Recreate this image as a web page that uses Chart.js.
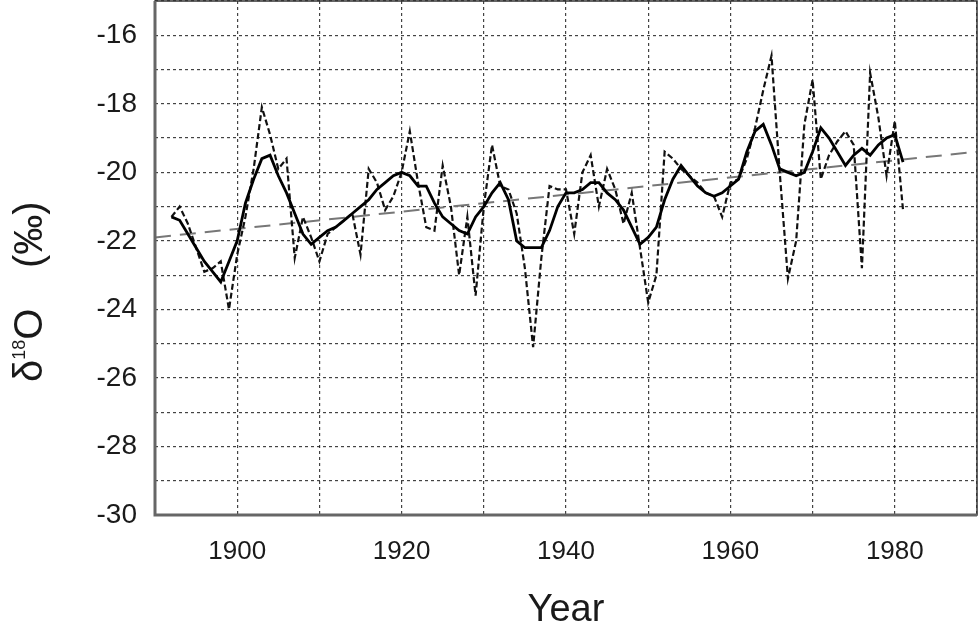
<!DOCTYPE html>
<html>
<head>
<meta charset="utf-8">
<script src="https://cdn.jsdelivr.net/npm/chart.js@4.4.1/dist/chart.umd.min.js"></script>
<style>
  html, body { margin: 0; padding: 0; background: #fff; }
  #wrap { width: 980px; height: 633px; }
</style>
</head>
<body>
<div id="wrap"><canvas id="chart" width="980" height="633"></canvas></div>
<script>
// yearly values 1892-1981
const startYear = 1892;
const annual = [
  -21.3, -21.0, -21.5, -22.2, -22.9, -22.8, -22.6, -24.0, -22.4, -21.3,
  -19.9, -18.1, -18.9, -19.9, -19.6, -22.5, -21.3, -21.9, -22.6, -21.8,
  -21.6, -21.4, -21.2, -22.4, -19.9, -20.3, -21.1, -20.7, -20.0, -18.8,
  -20.3, -21.6, -21.7, -19.8, -21.0, -23.0, -21.3, -23.6, -21.0, -19.2,
  -20.4, -20.5, -21.2, -22.8, -25.1, -22.5, -20.4, -20.5, -20.5, -21.8,
  -20.0, -19.5, -21.0, -19.9, -20.5, -21.5, -20.6, -22.2, -23.8, -23.0,
  -19.4, -19.6, -19.9, -20.1, -20.3, -20.6, -20.7, -21.3, -20.3, -20.2,
  -19.6, -18.7, -17.6, -16.6, -20.0, -23.1, -22.0, -18.6, -17.3, -20.2,
  -19.5, -19.1, -18.8, -19.2, -22.8, -17.1, -18.4, -20.1, -18.5, -21.1
];
// running mean (solid line)
const smoothed = [
  -21.3, -21.4, -21.8, -22.2, -22.6, -22.9, -23.2, -22.6, -22.0, -20.9,
  -20.2, -19.6, -19.5, -20.1, -20.6, -21.2, -21.8, -22.1, -21.9, -21.7,
  -21.6, -21.4, -21.2, -21.0, -20.8, -20.5, -20.3, -20.1, -20.0, -20.1,
  -20.4, -20.4, -20.9, -21.3, -21.5, -21.7, -21.8, -21.3, -21.0, -20.6,
  -20.3, -20.8, -22.0, -22.2, -22.2, -22.2, -21.7, -21.0, -20.6, -20.6,
  -20.5, -20.3, -20.3, -20.6, -20.8, -21.1, -21.6, -22.1, -21.9, -21.6,
  -20.8, -20.2, -19.8, -20.1, -20.4, -20.6, -20.7, -20.6, -20.4, -20.2,
  -19.4, -18.8, -18.6, -19.2, -19.9, -20.0, -20.1, -20.0, -19.4, -18.7,
  -19.0, -19.4, -19.8, -19.5, -19.3, -19.5, -19.2, -19.0, -18.9, -19.7
];
// linear trend
const trendYears = [1890, 1990];
const trendValues = [-21.9, -19.4];

const years = annual.map((v, i) => startYear + i);
const xTickLabels = [1900, 1920, 1940, 1960, 1980];
const yTickLabels = [-30, -28, -26, -24, -22, -20, -18, -16];

const toPoints = (xs, ys) => xs.map((x, i) => ({ x: x, y: ys[i] }));

const fontFamily = '"Liberation Sans", Arial, sans-serif';

// frame round the plot and the rotated y title with its superscript
const framePlugin = {
  id: 'frame',
  afterDraw(chart) {
    const ctx = chart.ctx;
    const a = chart.chartArea;
    ctx.save();
    ctx.setLineDash([]);
    ctx.strokeStyle = '#333';
    ctx.lineWidth = 1.5;
    ctx.strokeRect(a.left, a.top, a.right - a.left, a.bottom - a.top);
    ctx.strokeStyle = '#666';
    ctx.lineWidth = 3;
    ctx.beginPath();
    ctx.moveTo(a.left, a.top);
    ctx.lineTo(a.left, a.bottom);
    ctx.lineTo(a.right, a.bottom);
    ctx.stroke();

    ctx.fillStyle = '#1a1a1a';
    ctx.translate(42, 382);
    ctx.rotate(-Math.PI / 2);
    ctx.textBaseline = 'alphabetic';
    ctx.textAlign = 'left';
    let px = 0;
    ctx.font = '40px ' + fontFamily;
    ctx.fillText('δ', px, 0);
    px += ctx.measureText('δ').width;
    ctx.font = '18px ' + fontFamily;
    ctx.fillText('18', px, -17);
    px += ctx.measureText('18').width;
    ctx.font = '40px ' + fontFamily;
    ctx.fillText('O', px, 0);
    ctx.fillText('(‰)', 114, 0);
    ctx.restore();
  }
};

new Chart(document.getElementById('chart'), {
  type: 'line',
  data: {
    datasets: [
      {
        label: 'annual',
        data: toPoints(years, annual),
        borderColor: '#111',
        borderWidth: 2.2,
        borderDash: [6, 3],
        pointRadius: 0,
        order: 2
      },
      {
        label: 'running mean',
        data: toPoints(years, smoothed),
        borderColor: '#000',
        borderWidth: 2.8,
        pointRadius: 0,
        order: 1
      },
      {
        label: 'trend',
        data: toPoints(trendYears, trendValues),
        borderColor: '#777',
        borderWidth: 2,
        borderDash: [16, 9],
        pointRadius: 0,
        order: 3
      }
    ]
  },
  options: {
    responsive: false,
    animation: false,
    devicePixelRatio: 1,
    layout: { padding: { left: 0, right: 3, top: 1, bottom: 0 } },
    plugins: { legend: { display: false }, tooltip: { enabled: false } },
    scales: {
      x: {
        type: 'linear',
        min: 1890,
        max: 1990,
        afterFit: s => { s.height = 118; s.paddingLeft = 0; s.paddingRight = 0; },
        grid: { color: 'rgba(20,20,20,0.8)', lineWidth: 1.2, drawTicks: false },
        border: { display: false, dash: [3, 3] },
        ticks: {
          stepSize: 10,
          autoSkip: false,
          maxRotation: 0,
          padding: 21,
          color: '#1a1a1a',
          font: { family: fontFamily, size: 26 },
          callback: v => xTickLabels.includes(v) ? String(v) : ''
        },
        title: {
          display: true,
          text: 'Year',
          color: '#1a1a1a',
          font: { family: fontFamily, size: 38 },
          padding: { top: 0, bottom: 0 }
        }
      },
      y: {
        min: -30,
        max: -15,
        afterFit: s => { s.width = 155; s.paddingTop = 0; s.paddingBottom = 0; },
        grid: { color: 'rgba(20,20,20,0.8)', lineWidth: 1.2, drawTicks: false },
        border: { display: false, dash: [3, 3] },
        ticks: {
          stepSize: 1,
          autoSkip: false,
          padding: 18,
          color: '#1a1a1a',
          font: { family: fontFamily, size: 28 },
          callback: v => yTickLabels.includes(v) ? String(v) : ''
        }
      }
    }
  },
  plugins: [framePlugin]
});
</script>
</body>
</html>
